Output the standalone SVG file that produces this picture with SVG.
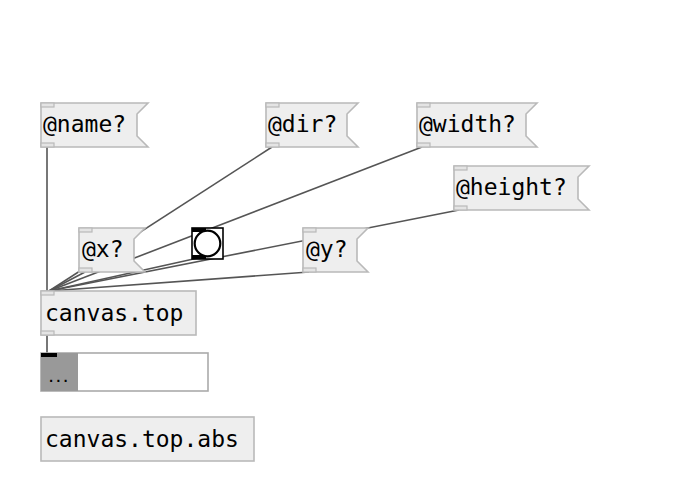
<svg xmlns="http://www.w3.org/2000/svg" width="680" height="494" viewBox="0 0 680 494">
<style>
.box{fill:#eeeeee;stroke:#b9b9b9;stroke-width:1.6}
.io{fill:#e4e4e4;stroke:#b9b9b9;stroke-width:1.2}
.t{font-family:"DejaVu Sans Mono",monospace;font-size:23px;fill:#000}
.c{stroke:#555555;stroke-width:1.6;fill:none}
</style>
<rect width="680" height="494" fill="#ffffff"/>
<g id="connectors">
<line class="c" x1="47" y1="147" x2="47" y2="291"/>
<line class="c" x1="272" y1="147" x2="49" y2="291"/>
<line class="c" x1="422" y1="147" x2="49" y2="291"/>
<line class="c" x1="459" y1="210" x2="49" y2="291"/>
<line class="c" x1="85" y1="272" x2="49" y2="291"/>
<line class="c" x1="309" y1="272" x2="49" y2="291"/>
<line class="c" x1="198" y1="258" x2="49" y2="291"/>
<line class="c" x1="47" y1="335" x2="47" y2="353"/>
</g>
<g id="msg-name">
<path class="box" d="M41,103 H148 L137,114 V136 L148,147 H41 Z"/>
<rect class="io" x="41" y="103" width="13" height="4"/>
<rect class="io" x="41" y="143" width="13" height="4"/>
<text class="t" x="43" y="132">@name?</text>
</g>
<g id="msg-dir">
<path class="box" d="M266,103 H358 L347,114 V136 L358,147 H266 Z"/>
<rect class="io" x="266" y="103" width="13" height="4"/>
<rect class="io" x="266" y="143" width="13" height="4"/>
<text class="t" x="268" y="132">@dir?</text>
</g>
<g id="msg-width">
<path class="box" d="M417,103 H537 L526,114 V136 L537,147 H417 Z"/>
<rect class="io" x="417" y="103" width="13" height="4"/>
<rect class="io" x="417" y="143" width="13" height="4"/>
<text class="t" x="419" y="132">@width?</text>
</g>
<g id="msg-height">
<path class="box" d="M454,166 H589 L578,177 V199 L589,210 H454 Z"/>
<rect class="io" x="454" y="166" width="13" height="4"/>
<rect class="io" x="454" y="206" width="13" height="4"/>
<text class="t" x="456" y="195">@height?</text>
</g>
<g id="msg-x">
<path class="box" d="M79,228 H145 L134,239 V261 L145,272 H79 Z"/>
<rect class="io" x="79" y="228" width="13" height="4"/>
<rect class="io" x="79" y="268" width="13" height="4"/>
<text class="t" x="82" y="257">@x?</text>
</g>
<g id="msg-y">
<path class="box" d="M303,228 H368 L357,239 V261 L368,272 H303 Z"/>
<rect class="io" x="303" y="228" width="13" height="4"/>
<rect class="io" x="303" y="268" width="13" height="4"/>
<text class="t" x="306" y="257">@y?</text>
</g>
<g id="bang">
<rect x="192" y="228" width="31" height="31" fill="#ffffff" stroke="#000" stroke-width="1.6"/>
<rect x="192" y="228" width="14" height="4" fill="#000"/>
<rect x="192" y="255" width="14" height="4" fill="#000"/>
<circle cx="207.5" cy="243.5" r="12.8" fill="#ffffff" stroke="#000" stroke-width="2.2"/>
</g>
<g id="obj-canvas-top">
<rect class="box" x="41" y="291" width="155" height="44"/>
<rect class="io" x="41" y="291" width="13" height="4"/>
<rect class="io" x="41" y="331" width="13" height="4"/>
<text class="t" x="45" y="321">canvas.top</text>
</g>
<g id="list">
<rect x="41" y="353" width="167" height="38" fill="#ffffff" stroke="#aaaaaa" stroke-width="1.6"/>
<rect x="41" y="353" width="37" height="38" fill="#999999"/>
<rect x="41" y="353" width="16" height="4" fill="#000"/>
<text x="47.5" y="382" font-family="DejaVu Sans Mono, monospace" font-size="12" font-weight="bold" fill="#000">...</text>
</g>
<g id="obj-canvas-top-abs">
<rect class="box" x="41" y="417" width="213" height="44"/>
<text class="t" x="45" y="447">canvas.top.abs</text>
</g>
</svg>
